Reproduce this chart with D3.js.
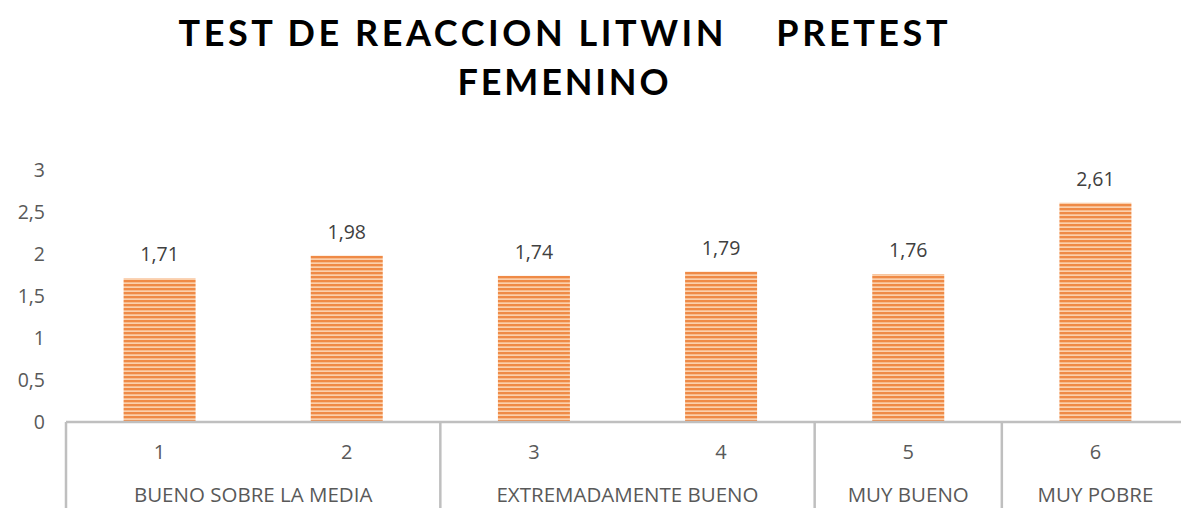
<!DOCTYPE html>
<html><head><meta charset="utf-8">
<script src="https://cdn.jsdelivr.net/npm/d3@7"></script>
<style>body{margin:0;background:#fff}svg{display:block}</style>
</head><body>
<script>
const categories = ["1","2","3","4","5","6"];
const values = [1.71, 1.98, 1.74, 1.79, 1.76, 2.61];
const valueLabels = ["1,71","1,98","1,74","1,79","1,76","2,61"];
const groups = [
  {name:"BUENO SOBRE LA MEDIA", members:["1","2"]},
  {name:"EXTREMADAMENTE BUENO", members:["3","4"]},
  {name:"MUY BUENO", members:["5"]},
  {name:"MUY POBRE", members:["6"]}
];
const yTicks = [0, 0.5, 1, 1.5, 2, 2.5, 3];
const titleLines = ["TEST DE REACCION LITWIN    PRETEST", "FEMENINO"];

const W = 1181, H = 508;
const svg = d3.select("body").append("svg").attr("width", W).attr("height", H);

const defs = svg.append("defs");
const pat = defs.append("pattern").attr("id","stripes").attr("patternUnits","userSpaceOnUse")
  .attr("width", 8).attr("height", 4);
pat.append("rect").attr("width",8).attr("height",4).attr("fill","#fbd0ac");
pat.append("rect").attr("y",0).attr("width",8).attr("height",2.3).attr("fill","#ef8a46");

const x = d3.scaleBand().domain(categories).range([66, 1189]).paddingInner(0).paddingOuter(0);
const y = d3.scaleLinear().domain([0, 3]).range([422, 170]);
const barW = 72;
const FONT = "'Open Sans', sans-serif";

// title
const titleWidths = [769, 211];
svg.append("g").selectAll("text").data(titleLines).join("text")
  .attr("x", 563).attr("y", (d,i)=> 46 + i*49)
  .attr("text-anchor","middle")
  .attr("font-family","Lato, 'Open Sans', sans-serif").attr("font-weight","bold")
  .attr("font-size", 36).attr("fill","#000")
  .attr("textLength", (d,i)=>titleWidths[i]).attr("lengthAdjust","spacing")
  .attr("xml:space","preserve").style("white-space","pre")
  .text(d=>d);

// y axis labels
svg.append("g").selectAll("text").data(yTicks).join("text")
  .attr("x", 45).attr("y", d=>y(d)).attr("dy","0.36em")
  .attr("text-anchor","end")
  .attr("font-family",FONT).attr("font-size", 19.5).attr("fill","#595959")
  .text(d=>String(d).replace(".", ","));

// bars
svg.append("g").selectAll("rect").data(values).join("rect")
  .attr("x", (d,i)=> x(categories[i]) + x.bandwidth()/2 - barW/2)
  .attr("y", d=>y(d)).attr("width", barW).attr("height", d=>y(0)-y(d))
  .attr("fill","url(#stripes)");

// data labels
svg.append("g").selectAll("text").data(values).join("text")
  .attr("x", (d,i)=> x(categories[i]) + x.bandwidth()/2)
  .attr("y", d=>y(d) - 17)
  .attr("text-anchor","middle")
  .attr("font-family",FONT).attr("font-size", 19.5).attr("fill","#404040")
  .text((d,i)=>valueLabels[i]);

// axis line
const axisG = svg.append("g").attr("stroke","#bfbfbf").attr("stroke-width",2.5);
axisG.append("line").attr("x1", 66).attr("x2", W).attr("y1", y(0)).attr("y2", y(0));
// group separators
const boundaries = [x(categories[0])];
groups.forEach(g => { const last = g.members[g.members.length-1]; boundaries.push(x(last)+x.bandwidth()); });
axisG.selectAll("line.sep").data(boundaries).join("line").attr("class","sep")
  .attr("x1", d=>d).attr("x2", d=>d).attr("y1", y(0)).attr("y2", H);

// category labels
svg.append("g").selectAll("text").data(categories).join("text")
  .attr("x", d=> x(d) + x.bandwidth()/2).attr("y", 459)
  .attr("text-anchor","middle")
  .attr("font-family",FONT).attr("font-size", 20).attr("fill","#595959")
  .text(d=>d);

// group labels
svg.append("g").selectAll("text").data(groups).join("text")
  .attr("x", g => (x(g.members[0]) + x(g.members[g.members.length-1]) + x.bandwidth())/2)
  .attr("y", 502)
  .attr("text-anchor","middle")
  .attr("font-family",FONT).attr("font-size", 20.5).attr("fill","#595959")
  .text(g=>g.name);
</script>
</body></html>
